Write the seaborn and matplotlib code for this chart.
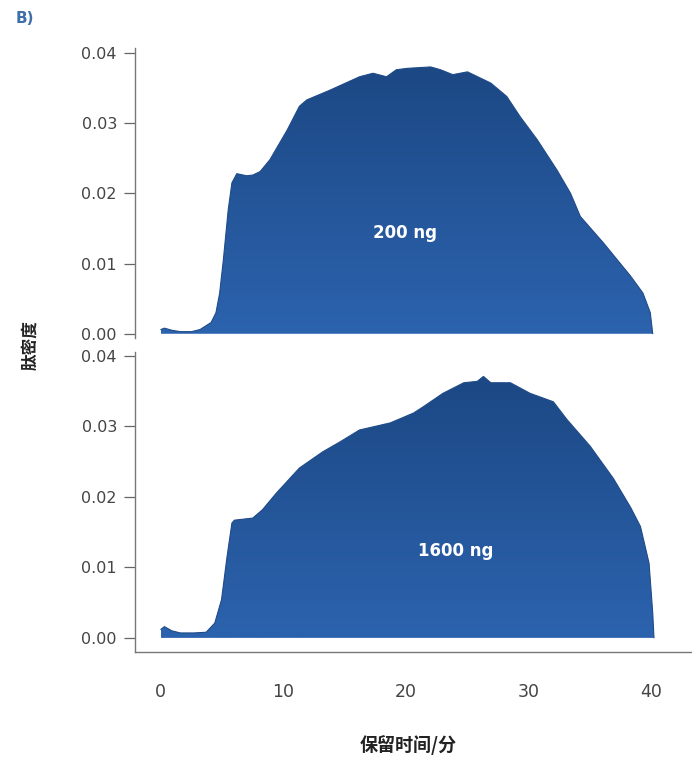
import numpy as np
import pandas as pd
import matplotlib
matplotlib.use("Agg")
import matplotlib.pyplot as plt
from matplotlib.colors import LinearSegmentedColormap
import seaborn as sns

# ---- data ----
time_200 = [0.0, 0.3, 0.9, 1.6, 2.5, 3.2, 4.1, 4.5, 4.8, 5.1, 5.5, 5.8, 6.2, 7.0, 7.5,
            8.1, 8.9, 9.5, 10.3, 11.3, 11.9, 13.8, 16.2, 17.3, 18.4, 19.2, 20.1, 22.0,
            22.8, 23.8, 25.0, 26.9, 28.2, 29.3, 30.7, 32.3, 33.4, 34.2, 36.1, 38.3,
            39.3, 39.9, 40.1]
dens_200 = [0.0006, 0.0008, 0.0005, 0.0003, 0.0003, 0.0006, 0.0016, 0.0030, 0.0058,
            0.0105, 0.0177, 0.0215, 0.0228, 0.0225, 0.0226, 0.0231, 0.0248, 0.0266,
            0.0290, 0.0324, 0.0333, 0.0347, 0.0366, 0.0371, 0.0366, 0.0376, 0.0378,
            0.0380, 0.0376, 0.0369, 0.0373, 0.0357, 0.0338, 0.0309, 0.0276, 0.0233,
            0.0200, 0.0167, 0.0129, 0.0082, 0.0058, 0.0030, 0.0000]

time_1600 = [0.0, 0.3, 0.9, 1.6, 2.7, 3.7, 4.4, 4.95, 5.4, 5.8, 6.0, 7.5, 8.3, 9.4,
             11.3, 13.2, 14.6, 16.2, 18.7, 20.6, 21.4, 23.0, 24.7, 25.8, 26.3, 26.9,
             28.5, 30.1, 32.0, 33.1, 35.0, 36.9, 38.3, 39.1, 39.8, 40.1, 40.2]
dens_1600 = [0.0012, 0.0016, 0.0010, 0.0007, 0.0007, 0.0008, 0.0021, 0.0054, 0.0115,
             0.0163, 0.0167, 0.0170, 0.0182, 0.0205, 0.0241, 0.0264, 0.0278, 0.0295,
             0.0305, 0.0319, 0.0328, 0.0347, 0.0362, 0.0364, 0.0371, 0.0362, 0.0362,
             0.0347, 0.0335, 0.0310, 0.0272, 0.0226, 0.0185, 0.0158, 0.0106, 0.0035,
             0.0000]

panel_labels = ["200 ng", "1600 ng"]
y_ticks = [0.00, 0.01, 0.02, 0.03, 0.04]
x_ticks = [0, 10, 20, 30, 40]

sns.set_theme(style="white")
plt.rcParams["font.family"] = ["Noto Sans CJK SC", "DejaVu Sans"]

fig = plt.figure(figsize=(6.92, 7.59), dpi=100)
ax_top = fig.add_axes([0.1951, 0.5547, 0.8049, 0.3821])
ax_bot = fig.add_axes([0.1951, 0.1410, 0.8049, 0.3953])

cmap = LinearSegmentedColormap.from_list("blues", ["#2c63ae", "#1c4884"])

def draw(ax, t, d, label, lx, ly, ylim):
    df = pd.DataFrame({"t": t, "d": d})
    poly = ax.fill_between(df["t"], df["d"], 0, color="none", lw=0)
    grad = np.linspace(0, 1, 256).reshape(-1, 1)
    im = ax.imshow(grad, aspect="auto", cmap=cmap, origin="lower",
                   extent=[min(t), max(t), 0, max(d)], zorder=1)
    im.set_clip_path(poly.get_paths()[0], transform=ax.transData)
    sns.lineplot(data=df, x="t", y="d", ax=ax, color="#1f4b89", lw=0.8, zorder=2)
    ax.set_xlim(-2.1, 43.3)
    ax.set_ylim(*ylim)
    ax.set_yticks(y_ticks)
    ax.set_yticklabels([f"{v:.2f}" for v in y_ticks], family="DejaVu Sans")
    ax.tick_params(axis="y", which="both", left=True, length=8, width=0.9,
                   color="#666666", labelsize=11.5, labelcolor="#444444", pad=5)
    ax.set_xlabel("")
    ax.set_ylabel("")
    for s in ["top", "right"]:
        ax.spines[s].set_visible(False)
    ax.spines["left"].set_color("#777777")
    ax.spines["left"].set_linewidth(1.0)
    ax.text(lx, ly, label, color="white", fontsize=12, fontweight="bold",
            ha="center", va="center", family="DejaVu Sans", zorder=3)

draw(ax_top, time_200, dens_200, panel_labels[0], 19.9, 0.0144, (-0.0006, 0.0407))
draw(ax_bot, time_1600, dens_1600, panel_labels[1], 24.0, 0.0123, (-0.0020, 0.04057))

ax_top.spines["bottom"].set_visible(False)
ax_top.set_xticks([])
ax_bot.spines["bottom"].set_color("#777777")
ax_bot.spines["bottom"].set_linewidth(1.0)
ax_bot.set_xticks(x_ticks)
ax_bot.set_xticklabels([str(v) for v in x_ticks], family="DejaVu Sans")
ax_bot.tick_params(axis="x", bottom=False, length=0, labelsize=12.5,
                   labelcolor="#444444", pad=22)

fig.text(0.043, 0.545, "肽密度", rotation=90, ha="center", va="center",
         fontsize=12, fontweight="bold", color="#222222")
fig.text(0.59, 0.018, "保留时间/分", ha="center", va="center",
         fontsize=13, fontweight="bold", color="#222222")
fig.text(0.022, 0.975, "B)", ha="left", va="center", fontsize=11,
         fontweight="bold", color="#3d6fa8", family="DejaVu Sans")

fig.savefig("out.png", dpi=100)
